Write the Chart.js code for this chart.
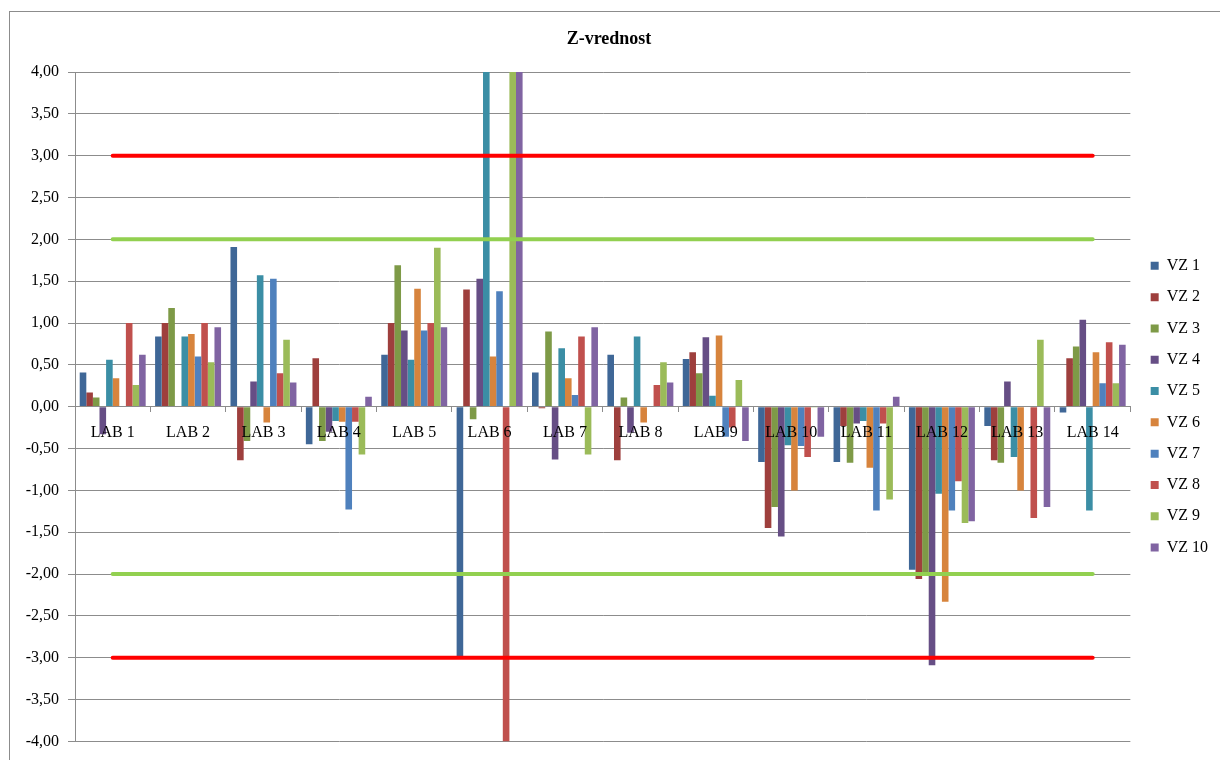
<!DOCTYPE html>
<html>
<head>
<meta charset="utf-8">
<script src="https://cdn.jsdelivr.net/npm/chart.js@4/dist/chart.umd.min.js"></script>
<style>
  html, body { margin: 0; padding: 0; background: #ffffff; }
  #wrap { position: relative; width: 1220px; height: 760px; overflow: hidden; }
  #frame { position: absolute; left: 9px; top: 11px; width: 1300px; height: 800px;
           border-left: 1px solid #8c8c8c; border-top: 1px solid #8c8c8c; pointer-events: none; }
  canvas { position: absolute; left: 0; top: 0; }
</style>
</head>
<body>
<div id="wrap">
  <canvas id="c" width="1220" height="760"></canvas>
  <div id="frame"></div>
</div>
<script>
const labs = ['LAB 1','LAB 2','LAB 3','LAB 4','LAB 5','LAB 6','LAB 7','LAB 8','LAB 9','LAB 10','LAB 11','LAB 12','LAB 13','LAB 14'];
const seriesNames = ['VZ 1','VZ 2','VZ 3','VZ 4','VZ 5','VZ 6','VZ 7','VZ 8','VZ 9','VZ 10'];

const vz1  = [0.41, 0.84, 1.91, -0.45, 0.62, -2.98, 0.41, 0.62, 0.57, -0.66, -0.66, -1.95, -0.23, -0.07];
const vz2  = [0.17, 1.00, -0.64, 0.58, 1.00, 1.40, -0.02, -0.64, 0.65, -1.45, -0.23, -2.06, -0.64, 0.58];
const vz3  = [0.11, 1.18, -0.41, -0.41, 1.69, -0.15, 0.90, 0.11, 0.40, -1.20, -0.67, -1.98, -0.67, 0.72];
const vz4  = [-0.33, 0.00, 0.30, -0.30, 0.91, 1.53, -0.63, -0.31, 0.83, -1.55, -0.20, -3.09, 0.30, 1.04];
const vz5  = [0.56, 0.84, 1.57, -0.17, 0.56, 4.00, 0.70, 0.84, 0.13, -0.46, -0.17, -1.04, -0.60, -1.24];
const vz6  = [0.34, 0.87, -0.19, -0.18, 1.41, 0.60, 0.34, -0.19, 0.85, -1.00, -0.73, -2.33, -1.00, 0.65];
const vz7  = [0.00, 0.60, 1.53, -1.23, 0.91, 1.38, 0.14, 0.00, -0.36, -0.47, -1.24, -1.24, 0.00, 0.28];
const vz8  = [1.00, 1.00, 0.40, -0.18, 1.00, -4.00, 0.84, 0.26, -0.25, -0.60, -0.20, -0.89, -1.33, 0.77];
const vz9  = [0.26, 0.53, 0.80, -0.57, 1.90, 4.00, -0.57, 0.53, 0.32, -0.01, -1.11, -1.39, 0.80, 0.28];
const vz10 = [0.62, 0.95, 0.29, 0.12, 0.95, 4.00, 0.95, 0.29, -0.41, -0.36, 0.12, -1.37, -1.20, 0.74];

const seriesValues = [vz1, vz2, vz3, vz4, vz5, vz6, vz7, vz8, vz9, vz10];
const seriesColors = ['#3F6797','#9E3F3D','#7E9A47','#664E85','#3B8EA5','#D7843D','#4F81BD','#C0504D','#9BBB59','#8064A2'];

// limit lines
const limitRed = 3;
const limitGreen = 2;

const yTicks = { min: -4, max: 4, step: 0.5 };

const FONT = '"Liberation Serif", "Times New Roman", serif';
const GRID = '#8c8c8c';

const datasets = seriesValues.map((vals, i) => ({
  type: 'bar',
  label: seriesNames[i],
  data: vals,
  backgroundColor: seriesColors[i],
  borderWidth: 0,
  barPercentage: 1.0,
  categoryPercentage: 0.875,
  order: 2
}));

function limitLine(v, color) {
  return {
    type: 'line',
    label: '',
    data: labs.map(() => v),
    borderColor: color,
    backgroundColor: color,
    borderWidth: 4,
    borderCapStyle: 'round',
    pointRadius: 0,
    pointHoverRadius: 0,
    fill: false,
    order: 1
  };
}
datasets.push(limitLine(limitRed, '#FF0000'));
datasets.push(limitLine(-limitRed, '#FF0000'));
datasets.push(limitLine(limitGreen, '#92D050'));
datasets.push(limitLine(-limitGreen, '#92D050'));

new Chart(document.getElementById('c'), {
  data: { labels: labs, datasets: datasets },
  options: {
    responsive: false,
    animation: false,
    devicePixelRatio: 1,
    layout: { padding: { left: 0, right: 2, top: 0, bottom: 15 } },
    plugins: {
      tooltip: { enabled: false },
      title: {
        display: true,
        text: 'Z-vrednost',
        color: '#000',
        font: { family: FONT, size: 18, weight: 'bold' },
        padding: { top: 29, bottom: 21.4 }
      },
      legend: {
        display: true,
        position: 'right',
        fullSize: false,
        align: 'center',
        labels: {
          boxWidth: 8,
          boxHeight: 8,
          padding: 15.3,
          color: '#000',
          font: { family: FONT, size: 16 },
          filter: (item) => item.datasetIndex < seriesNames.length
        }
      }
    },
    scales: {
      x: {
        type: 'category',
        position: { y: 0 },
        grid: { display: true, drawOnChartArea: false, drawTicks: true, tickLength: 5, color: GRID, offset: true },
        border: { display: true, color: GRID, width: 1, z: 1 },
        ticks: { z: 1, color: '#000', font: { family: FONT, size: 16 }, padding: 11, maxRotation: 0, autoSkip: false }
      },
      y: {
        type: 'linear',
        position: 'left',
        min: yTicks.min,
        max: yTicks.max,
        grid: { color: GRID, lineWidth: 1, drawTicks: true, tickLength: 7 },
        border: { display: true, color: GRID, width: 1 },
        ticks: {
          stepSize: yTicks.step,
          color: '#000',
          font: { family: FONT, size: 16 },
          padding: 9,
          callback: (v) => Number(v).toFixed(2).replace('.', ',')
        },
        afterFit: (s) => { s.width = 75; }
      },
      y2: {
        type: 'linear',
        position: 'right',
        display: true,
        grid: { display: false },
        border: { display: false },
        ticks: { display: false },
        afterFit: (s) => { s.width = 5; }
      }
    }
  }
});
</script>
</body>
</html>
